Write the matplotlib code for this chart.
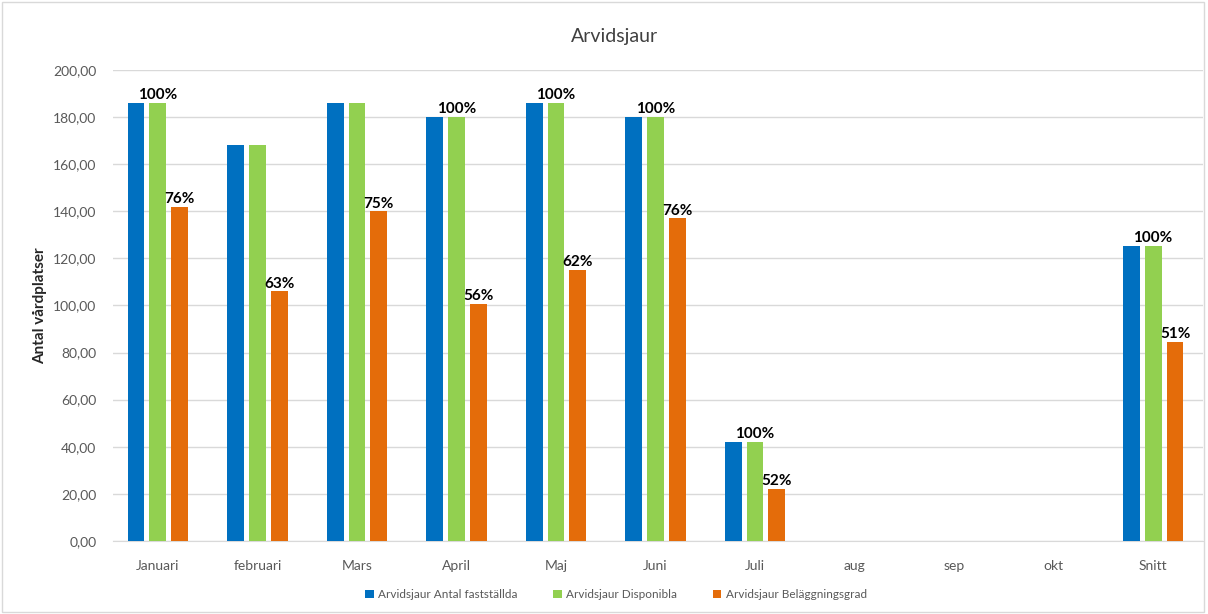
import matplotlib.pyplot as plt
import numpy as np
from matplotlib.patches import Rectangle

plt.rcParams['font.family'] = ['Lato', 'DejaVu Sans']

months = ["Januari", "februari", "Mars", "April", "Maj", "Juni", "Juli",
          "aug", "sep", "okt", "Snitt"]
faststallda = [186, 168, 186, 180, 186, 180, 42, 0, 0, 0, 125.4]
disponibla = [186, 168, 186, 180, 186, 180, 42, 0, 0, 0, 125.4]
belaggning = [142, 106, 140, 100.6, 115, 137, 22, 0, 0, 0, 84.5]
disp_labels = ["100%", "", "", "100%", "100%", "100%", "100%", "", "", "", "100%"]
bel_labels = ["76%", "63%", "75%", "56%", "62%", "76%", "52%", "", "", "", "51%"]

series = ["Arvidsjaur Antal fastställda", "Arvidsjaur Disponibla",
          "Arvidsjaur Beläggningsgrad"]
colors = ["#0070C0", "#92D050", "#E46C0A"]

fig = plt.figure(figsize=(12.08, 6.14), dpi=100)
ax = fig.add_axes([0.0935, 0.119, 0.9025, 0.767])

x = np.arange(len(months))
w = 0.17
step = 0.22
bars = []
for i, vals in enumerate([faststallda, disponibla, belaggning]):
    b = ax.bar(x + (i - 1) * step, vals, w, color=colors[i], label=series[i], zorder=3)
    bars.append(b)

for group, labels in [(bars[1], disp_labels), (bars[2], bel_labels)]:
    for rect, lab in zip(group, labels):
        if lab:
            ax.text(rect.get_x() + rect.get_width() / 2, rect.get_height() + 0.3, lab,
                    ha='center', va='bottom', fontsize=11, fontweight='bold', color='black')

ax.set_xlim(-0.452, 10.503)
ax.set_ylim(0, 200)
ax.set_yticks(np.arange(0, 201, 20))
ax.set_yticklabels([f"{v:.2f}".replace(".", ",") for v in np.arange(0, 201, 20)])
ax.set_xticks(x)
ax.set_xticklabels(months)
ax.tick_params(axis='both', length=0, labelsize=10, labelcolor='#595959')
ax.tick_params(axis='x', pad=14)
ax.tick_params(axis='y', pad=12)
ax.grid(axis='y', color='#d9d9d9', linewidth=1, zorder=0)
for s in ['left', 'right', 'top']:
    ax.spines[s].set_visible(False)
ax.spines['bottom'].set_color('#d9d9d9')

ax.set_ylabel("Antal vårdplatser", fontsize=11, fontweight='bold', color='#262626', labelpad=4)
fig.text(0.5085, 0.94, "Arvidsjaur", ha='center', va='center', fontsize=14, color='#404040')

fig.legend(loc='center', bbox_to_anchor=(0.51, 0.031), ncol=3, frameon=False,
           fontsize=8.5, handlelength=0.7, handleheight=0.7, columnspacing=3,
           handletextpad=0.4, labelcolor='#595959')

fig.patches.append(Rectangle((0.002, 0.003), 0.995, 0.993, transform=fig.transFigure,
                             fill=False, edgecolor='#d9d9d9', linewidth=1))

fig.savefig("out.png", dpi=100)
